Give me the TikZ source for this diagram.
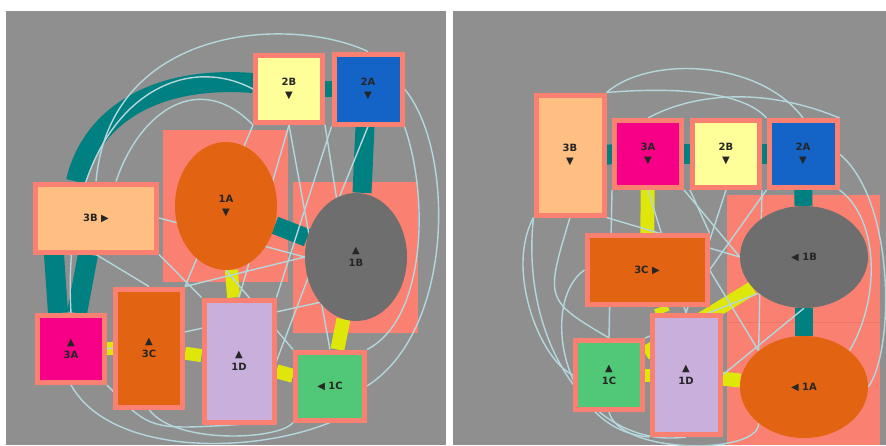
\documentclass[tikz,border=0pt]{standalone}
\usepackage{fontspec}
\setmainfont{DejaVu Sans}
\usetikzlibrary{shapes.geometric,calc}
\definecolor{bg}{RGB}{143,143,143}
\definecolor{salmon}{RGB}{250,128,114}
\definecolor{cyel}{RGB}{255,255,153}
\definecolor{cblue}{RGB}{20,100,200}
\definecolor{corange}{RGB}{226,100,18}
\definecolor{cgray}{RGB}{110,110,110}
\definecolor{cpeach}{RGB}{255,190,130}
\definecolor{cmag}{RGB}{245,0,135}
\definecolor{clav}{RGB}{200,175,220}
\definecolor{cgreen}{RGB}{80,200,120}
\definecolor{cteal}{RGB}{0,128,128}
\definecolor{cylw}{RGB}{222,230,10}
\definecolor{clight}{RGB}{180,215,220}
\pgfdeclarelayer{grp}
\pgfdeclarelayer{edg}
\pgfdeclarelayer{lite}
\pgfsetlayers{grp,edg,lite,main}
\begin{document}
\begin{tikzpicture}[x=1pt,y=-1pt,
  lbl/.style={align=center,font=\fontsize{10}{13}\selectfont\bfseries,text=black!85},
  box/.style={lbl,draw=salmon,line width=5pt,inner sep=0pt},
  ell/.style={lbl,ellipse,inner sep=0pt},
  grpbox/.style={fill=salmon},
  tedge/.style={draw=cteal,line width=18pt},
  yedge/.style={draw=cylw,line width=13pt},
  ledge/.style={draw=clight,line width=1.4pt}]
\useasboundingbox (0,0) rectangle (886,445);
\begin{pgfonlayer}{grp}
\fill[white] (0,0) rectangle (886,445);
\fill[bg] (6,11) rectangle (446,445);
\fill[bg] (453,11) rectangle (886,445);
% left groups
\fill[grpbox] (163,130) rectangle (288,282);
\fill[grpbox] (293,182) rectangle (418,333);
% right groups
\fill[grpbox] (727,195) rectangle (880,322);
\fill[grpbox] (727,322) rectangle (880,445);
\draw[salmon!80!black,opacity=0.35,line width=0.8pt] (727,322) -- (880,322);
\end{pgfonlayer}

% ---------------- left panel nodes
\node[box,fill=cyel,minimum width=67pt,minimum height=67pt] (L2B) at (289,89) {2B\\▼};
\node[box,fill=cblue,minimum width=68pt,minimum height=70pt] (L2A) at (368,89) {2A\\▼};
\node[box,fill=cpeach,minimum width=121pt,minimum height=68pt] (L3B) at (96,218) {3B ▶};
\node[box,fill=cmag,minimum width=67pt,minimum height=67pt] (L3A) at (71,349) {▲\\3A};
\node[box,fill=corange,minimum width=67pt,minimum height=118pt] (L3C) at (149,348) {▲\\3C};
\node[box,fill=clav,minimum width=70pt,minimum height=122pt] (L1D) at (239,361) {▲\\1D};
\node[box,fill=cgreen,minimum width=69pt,minimum height=68pt] (L1C) at (330,386) {◀ 1C};
\node[ell,fill=corange,minimum width=102pt,minimum height=128pt] (L1A) at (226,206) {1A\\▼};
\node[ell,fill=cgray,minimum width=102pt,minimum height=128pt] (L1B) at (356,257) {▲\\1B};

% ---------------- right panel nodes
\node[box,fill=cpeach,minimum width=68pt,minimum height=120pt] (R3B) at (570,155) {3B\\▼};
\node[box,fill=cmag,minimum width=67pt,minimum height=67pt] (R3A) at (648,154) {3A\\▼};
\node[box,fill=cyel,minimum width=67pt,minimum height=67pt] (R2B) at (726,154) {2B\\▼};
\node[box,fill=cblue,minimum width=68pt,minimum height=67pt] (R2A) at (803,154) {2A\\▼};
\node[ell,fill=cgray,minimum width=128pt,minimum height=102pt] (R1B) at (804,257) {◀ 1B};
\node[ell,fill=corange,minimum width=128pt,minimum height=102pt] (R1A) at (804,387) {◀ 1A};
\node[box,fill=corange,minimum width=120pt,minimum height=69pt] (R3C) at (647,270) {3C ▶};
\node[box,fill=clav,minimum width=68pt,minimum height=119pt] (R1D) at (686,375) {▲\\1D};
\node[box,fill=cgreen,minimum width=67pt,minimum height=69pt] (R1C) at (609,375) {▲\\1C};

% ---------------- strong edges
\begin{pgfonlayer}{edg}
% left teal
\draw[tedge,line width=16pt] (L2B) -- (L2A);
\draw[tedge,line width=19pt] ([xshift=-3pt]L2A.south) -- ([xshift=6pt]L1B.north);
\draw[tedge] (L1A) -- (L1B);
\draw[tedge,line width=20pt] ([yshift=6pt]L2B.west) .. controls (150,75) and (90,120) .. ([xshift=-20pt]L3B.north);
\draw[tedge,line width=20pt] ([xshift=-42pt]L3B.south) -- ([xshift=-13pt]L3A.north);
\draw[tedge,line width=20pt] ([xshift=-8pt]L3B.south) -- ([xshift=6pt]L3A.north);
% left yellow
\draw[yedge] (L3A) -- (L3C);
\draw[yedge] (L3C) -- (L1D);
\draw[yedge] (L1A) -- (L1D);
\draw[yedge,line width=14pt] (L1D) -- (L1C);
\draw[yedge,line width=14pt] (L1B) -- (L1C);
% right teal
\draw[tedge,line width=20pt] (R3B) -- (R3A);
\draw[tedge,line width=20pt] (R3A) -- (R2B);
\draw[tedge,line width=20pt] (R2B) -- (R2A);
\draw[tedge] (R2A) -- (R1B);
\draw[tedge] (R1B) -- (R1A);
% right yellow
\draw[yedge,line width=14pt] (R3A) -- (R3C);
\draw[yedge,line width=14pt] (R3C) -- (R1D);
\draw[yedge,line width=14pt] (R1C) -- (R1B);
\draw[yedge,line width=13pt] (R1C) -- (R1D);
\draw[yedge,line width=14pt] (R1D) -- (R1A);
\end{pgfonlayer}

% ---------------- light edges
\begin{pgfonlayer}{lite}
% left
\draw[ledge] (L3B.north) .. controls (110,25) and (290,15) .. (L2A.north);
\draw[ledge] (L3A.north) .. controls (60,120) and (170,45) .. (L2B.west);
\draw[ledge] ([xshift=20pt]L3B.north) .. controls (140,110) and (200,70) .. (L2B.south west);
\draw[ledge] (L2A.east) .. controls (455,150) and (455,330) .. (L1C.east);
\draw[ledge] (L2A.south east) .. controls (430,200) and (425,320) .. (L1C.north east);
\draw[ledge] (L3A.south) .. controls (110,455) and (250,455) .. (L1C.south);
\draw[ledge] (L3C.south) .. controls (175,445) and (280,440) .. (L1C.south west);
\draw[ledge] (L3A.south east) .. controls (150,430) .. (L1D.south);
\draw[ledge] (L2B.south) -- (L1D.north);
\draw[ledge] (L2B.south) -- (L1C.north);
\draw[ledge] (L2A.south west) -- (L1D.north east);
\draw[ledge] (L2B.south east) -- (L1B.south);
\draw[ledge] (L3B.east) -- (L1B.west);
\draw[ledge] (L3C.north east) -- (L1B.west);
\draw[ledge] (L3A.east) -- (L1B.south west);
\draw[ledge] (L1A.south) -- (L1C.north west);
\draw[ledge] (L3B.south) -- (L3C.north);
\draw[ledge] (L3B.south east) -- (L1D.north west);
\draw[ledge] (L2B.south west) -- (L3C.north east);
\draw[ledge] (L2A.south) .. controls (330,220) .. (L1D.east);
% right
\draw[ledge] (R3B.north east) .. controls (650,55) and (760,60) .. (R2A.north);
\draw[ledge] (R3B.north east) .. controls (660,88) and (740,88) .. (R2A.north west);
\draw[ledge] (R3A.north) .. controls (690,95) and (760,85) .. (R2A.north east);
\draw[ledge] (R3B.south west) .. controls (505,270) and (540,360) .. (R1C.west);
\draw[ledge] (R3B.south) .. controls (545,300) .. (R1C.north);
\draw[ledge] (R3B.south west) .. controls (520,340) and (590,450) .. (R1D.south);
\draw[ledge] (R1C.south) .. controls (620,455) and (760,455) .. (R1A.south west);
\draw[ledge] (R2A.east) .. controls (895,200) and (895,350) .. (R1A.east);
\draw[ledge] (R2A.south east) .. controls (880,220) and (880,300) .. (R1A.north east);
\draw[ledge] (R3C.west) .. controls (540,300) and (560,430) .. (R1D.south west);
\draw[ledge] (R3A.south) -- (R1D.north);
\draw[ledge] (R2B.south) -- (R1D.north);
\draw[ledge] (R2A.south west) -- (R3C.east);
\draw[ledge] (R2B.south east) -- (R1A.north west);
\draw[ledge] (R3B.south east) -- (R1B.west);
\draw[ledge] (R3C.east) -- (R1A.north west);
\draw[ledge] (R3A.south east) -- (R1B.west);
\draw[ledge] (R1C.north east) -- (R1B.south west);
\draw[ledge] (R2B.south west) -- (R3C.north east);
\draw[ledge] (R3A.south west) -- (R1C.north);
\draw[ledge] (R1D.east) -- (R1B.south);
\end{pgfonlayer}
\end{tikzpicture}
\end{document}
